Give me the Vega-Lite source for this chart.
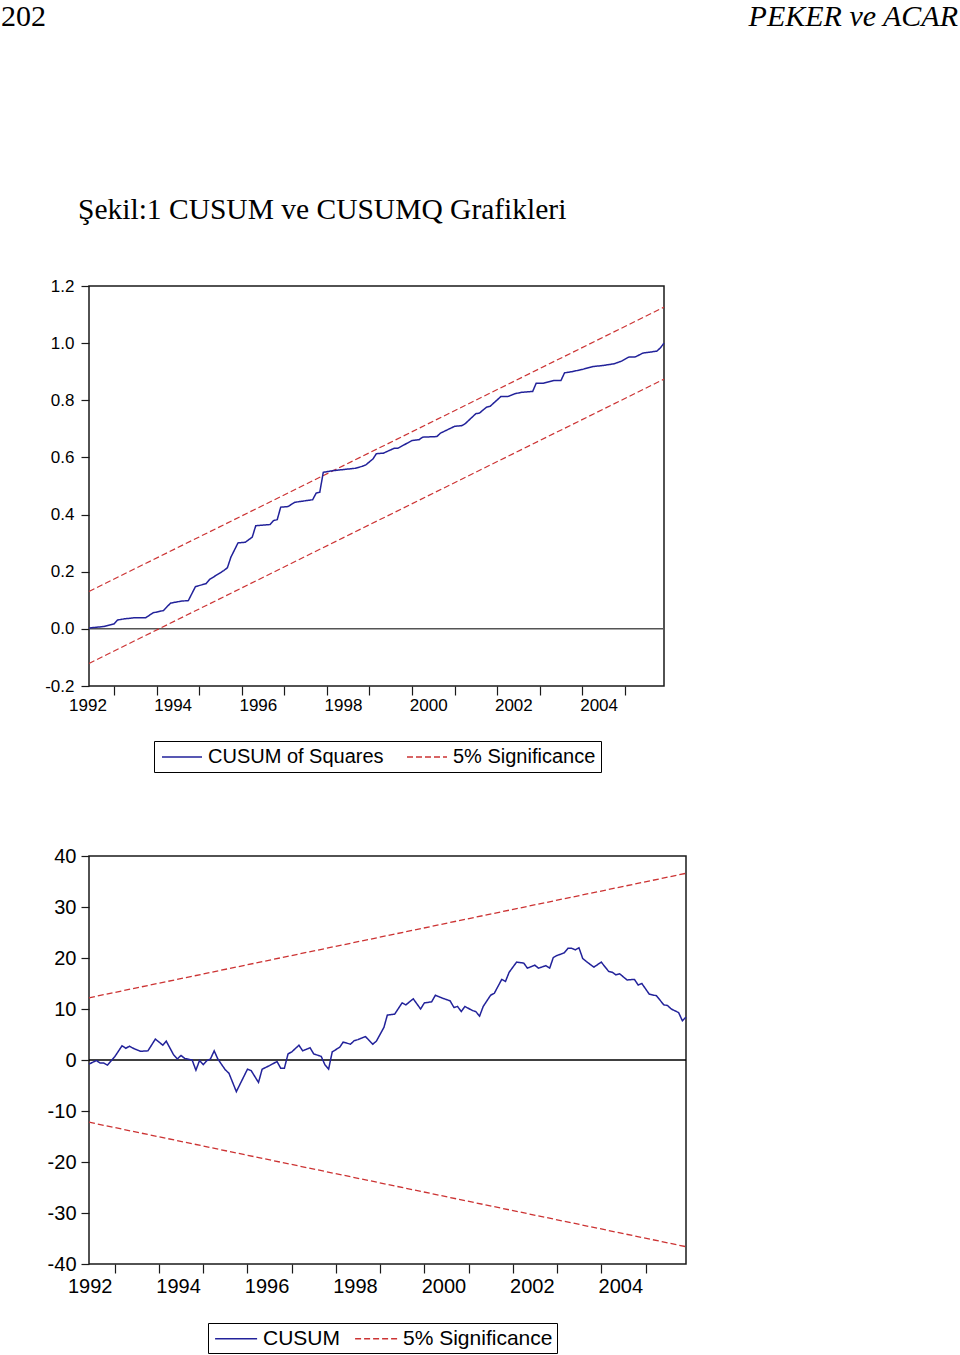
{
  "$schema": "https://vega.github.io/schema/vega-lite/v6.json",
  "padding": 0,
  "background": "white",
  "spacing": 160,
  "config": {
    "view": {"stroke": "#1a1a1a", "strokeWidth": 1.5},
    "axis": {"grid": false, "domain": false, "tickColor": "#1a1a1a", "labelColor": "black", "labelFont": "Liberation Sans", "labelFlush": false, "labelOverlap": false, "labelBound": false}
  },
  "datasets": {
    "header": [
      {"side": "left", "label": "202"},
      {"side": "right", "label": "PEKER ve ACAR"}
    ],
    "cusumq_sig": [
      {"date": "1992-06", "value": 0.131, "series": "5% Significance", "band": "upper"},
      {"date": "2005-12", "value": 1.126, "series": "5% Significance", "band": "upper"},
      {"date": "1992-06", "value": -0.121, "series": "5% Significance", "band": "lower"},
      {"date": "2005-12", "value": 0.874, "series": "5% Significance", "band": "lower"}
    ],
    "cusumq": [
      {"date": "1992-06", "value": 0.003, "series": "CUSUM of Squares"},
      {"date": "1992-10", "value": 0.008, "series": "CUSUM of Squares"},
      {"date": "1993-01", "value": 0.017, "series": "CUSUM of Squares"},
      {"date": "1993-02", "value": 0.031, "series": "CUSUM of Squares"},
      {"date": "1993-04", "value": 0.035, "series": "CUSUM of Squares"},
      {"date": "1993-07", "value": 0.039, "series": "CUSUM of Squares"},
      {"date": "1993-10", "value": 0.039, "series": "CUSUM of Squares"},
      {"date": "1993-12", "value": 0.056, "series": "CUSUM of Squares"},
      {"date": "1994-03", "value": 0.064, "series": "CUSUM of Squares"},
      {"date": "1994-05", "value": 0.090, "series": "CUSUM of Squares"},
      {"date": "1994-08", "value": 0.097, "series": "CUSUM of Squares"},
      {"date": "1994-10", "value": 0.099, "series": "CUSUM of Squares"},
      {"date": "1994-12", "value": 0.148, "series": "CUSUM of Squares"},
      {"date": "1995-03", "value": 0.158, "series": "CUSUM of Squares"},
      {"date": "1995-04", "value": 0.173, "series": "CUSUM of Squares"},
      {"date": "1995-08", "value": 0.204, "series": "CUSUM of Squares"},
      {"date": "1995-09", "value": 0.214, "series": "CUSUM of Squares"},
      {"date": "1995-10", "value": 0.251, "series": "CUSUM of Squares"},
      {"date": "1995-12", "value": 0.301, "series": "CUSUM of Squares"},
      {"date": "1996-02", "value": 0.303, "series": "CUSUM of Squares"},
      {"date": "1996-04", "value": 0.321, "series": "CUSUM of Squares"},
      {"date": "1996-05", "value": 0.361, "series": "CUSUM of Squares"},
      {"date": "1996-09", "value": 0.365, "series": "CUSUM of Squares"},
      {"date": "1996-10", "value": 0.379, "series": "CUSUM of Squares"},
      {"date": "1996-11", "value": 0.382, "series": "CUSUM of Squares"},
      {"date": "1996-12", "value": 0.426, "series": "CUSUM of Squares"},
      {"date": "1997-02", "value": 0.428, "series": "CUSUM of Squares"},
      {"date": "1997-04", "value": 0.443, "series": "CUSUM of Squares"},
      {"date": "1997-09", "value": 0.452, "series": "CUSUM of Squares"},
      {"date": "1997-10", "value": 0.475, "series": "CUSUM of Squares"},
      {"date": "1997-11", "value": 0.478, "series": "CUSUM of Squares"},
      {"date": "1997-12", "value": 0.548, "series": "CUSUM of Squares"},
      {"date": "1998-03", "value": 0.554, "series": "CUSUM of Squares"},
      {"date": "1998-09", "value": 0.562, "series": "CUSUM of Squares"},
      {"date": "1998-11", "value": 0.569, "series": "CUSUM of Squares"},
      {"date": "1998-12", "value": 0.574, "series": "CUSUM of Squares"},
      {"date": "1999-02", "value": 0.595, "series": "CUSUM of Squares"},
      {"date": "1999-03", "value": 0.613, "series": "CUSUM of Squares"},
      {"date": "1999-05", "value": 0.615, "series": "CUSUM of Squares"},
      {"date": "1999-08", "value": 0.632, "series": "CUSUM of Squares"},
      {"date": "1999-09", "value": 0.632, "series": "CUSUM of Squares"},
      {"date": "2000-01", "value": 0.659, "series": "CUSUM of Squares"},
      {"date": "2000-03", "value": 0.662, "series": "CUSUM of Squares"},
      {"date": "2000-04", "value": 0.671, "series": "CUSUM of Squares"},
      {"date": "2000-08", "value": 0.673, "series": "CUSUM of Squares"},
      {"date": "2000-09", "value": 0.685, "series": "CUSUM of Squares"},
      {"date": "2001-01", "value": 0.709, "series": "CUSUM of Squares"},
      {"date": "2001-03", "value": 0.711, "series": "CUSUM of Squares"},
      {"date": "2001-04", "value": 0.718, "series": "CUSUM of Squares"},
      {"date": "2001-07", "value": 0.753, "series": "CUSUM of Squares"},
      {"date": "2001-08", "value": 0.755, "series": "CUSUM of Squares"},
      {"date": "2001-10", "value": 0.776, "series": "CUSUM of Squares"},
      {"date": "2001-11", "value": 0.779, "series": "CUSUM of Squares"},
      {"date": "2002-02", "value": 0.813, "series": "CUSUM of Squares"},
      {"date": "2002-04", "value": 0.813, "series": "CUSUM of Squares"},
      {"date": "2002-06", "value": 0.823, "series": "CUSUM of Squares"},
      {"date": "2002-08", "value": 0.828, "series": "CUSUM of Squares"},
      {"date": "2002-11", "value": 0.831, "series": "CUSUM of Squares"},
      {"date": "2002-12", "value": 0.860, "series": "CUSUM of Squares"},
      {"date": "2003-02", "value": 0.860, "series": "CUSUM of Squares"},
      {"date": "2003-05", "value": 0.869, "series": "CUSUM of Squares"},
      {"date": "2003-07", "value": 0.869, "series": "CUSUM of Squares"},
      {"date": "2003-08", "value": 0.896, "series": "CUSUM of Squares"},
      {"date": "2003-10", "value": 0.900, "series": "CUSUM of Squares"},
      {"date": "2004-01", "value": 0.908, "series": "CUSUM of Squares"},
      {"date": "2004-04", "value": 0.918, "series": "CUSUM of Squares"},
      {"date": "2004-07", "value": 0.922, "series": "CUSUM of Squares"},
      {"date": "2004-10", "value": 0.928, "series": "CUSUM of Squares"},
      {"date": "2004-12", "value": 0.937, "series": "CUSUM of Squares"},
      {"date": "2005-02", "value": 0.951, "series": "CUSUM of Squares"},
      {"date": "2005-04", "value": 0.952, "series": "CUSUM of Squares"},
      {"date": "2005-06", "value": 0.965, "series": "CUSUM of Squares"},
      {"date": "2005-10", "value": 0.972, "series": "CUSUM of Squares"},
      {"date": "2005-11", "value": 0.984, "series": "CUSUM of Squares"},
      {"date": "2005-12", "value": 1.000, "series": "CUSUM of Squares"}
    ],
    "cusum_sig": [
      {"date": "1992-06", "value": 12.2, "series": "5% Significance", "band": "upper"},
      {"date": "2005-12", "value": 36.6, "series": "5% Significance", "band": "upper"},
      {"date": "1992-06", "value": -12.2, "series": "5% Significance", "band": "lower"},
      {"date": "2005-12", "value": -36.6, "series": "5% Significance", "band": "lower"}
    ],
    "cusum": [
      {"date": "1992-06", "value": -0.8, "series": "CUSUM"},
      {"date": "1992-08", "value": -0.1, "series": "CUSUM"},
      {"date": "1992-09", "value": -0.6, "series": "CUSUM"},
      {"date": "1992-10", "value": -0.6, "series": "CUSUM"},
      {"date": "1992-11", "value": -1.0, "series": "CUSUM"},
      {"date": "1993-01", "value": 0.7, "series": "CUSUM"},
      {"date": "1993-03", "value": 2.8, "series": "CUSUM"},
      {"date": "1993-04", "value": 2.3, "series": "CUSUM"},
      {"date": "1993-05", "value": 2.7, "series": "CUSUM"},
      {"date": "1993-06", "value": 2.3, "series": "CUSUM"},
      {"date": "1993-08", "value": 1.7, "series": "CUSUM"},
      {"date": "1993-10", "value": 1.8, "series": "CUSUM"},
      {"date": "1993-12", "value": 4.1, "series": "CUSUM"},
      {"date": "1994-02", "value": 2.9, "series": "CUSUM"},
      {"date": "1994-03", "value": 3.7, "series": "CUSUM"},
      {"date": "1994-05", "value": 1.0, "series": "CUSUM"},
      {"date": "1994-06", "value": 0.2, "series": "CUSUM"},
      {"date": "1994-07", "value": 0.9, "series": "CUSUM"},
      {"date": "1994-08", "value": 0.3, "series": "CUSUM"},
      {"date": "1994-10", "value": 0.0, "series": "CUSUM"},
      {"date": "1994-11", "value": -2.0, "series": "CUSUM"},
      {"date": "1994-12", "value": -0.1, "series": "CUSUM"},
      {"date": "1995-01", "value": -0.9, "series": "CUSUM"},
      {"date": "1995-02", "value": -0.1, "series": "CUSUM"},
      {"date": "1995-03", "value": 0.2, "series": "CUSUM"},
      {"date": "1995-04", "value": 1.8, "series": "CUSUM"},
      {"date": "1995-05", "value": 0.2, "series": "CUSUM"},
      {"date": "1995-07", "value": -1.9, "series": "CUSUM"},
      {"date": "1995-08", "value": -2.6, "series": "CUSUM"},
      {"date": "1995-10", "value": -6.2, "series": "CUSUM"},
      {"date": "1996-01", "value": -1.8, "series": "CUSUM"},
      {"date": "1996-02", "value": -2.1, "series": "CUSUM"},
      {"date": "1996-04", "value": -4.4, "series": "CUSUM"},
      {"date": "1996-05", "value": -1.8, "series": "CUSUM"},
      {"date": "1996-07", "value": -1.1, "series": "CUSUM"},
      {"date": "1996-09", "value": -0.3, "series": "CUSUM"},
      {"date": "1996-10", "value": -1.6, "series": "CUSUM"},
      {"date": "1996-11", "value": -1.6, "series": "CUSUM"},
      {"date": "1996-12", "value": 1.2, "series": "CUSUM"},
      {"date": "1997-01", "value": 1.6, "series": "CUSUM"},
      {"date": "1997-03", "value": 2.9, "series": "CUSUM"},
      {"date": "1997-04", "value": 1.8, "series": "CUSUM"},
      {"date": "1997-06", "value": 2.4, "series": "CUSUM"},
      {"date": "1997-07", "value": 1.2, "series": "CUSUM"},
      {"date": "1997-09", "value": 0.7, "series": "CUSUM"},
      {"date": "1997-10", "value": -0.9, "series": "CUSUM"},
      {"date": "1997-11", "value": -1.8, "series": "CUSUM"},
      {"date": "1997-12", "value": 1.6, "series": "CUSUM"},
      {"date": "1998-02", "value": 2.5, "series": "CUSUM"},
      {"date": "1998-03", "value": 3.5, "series": "CUSUM"},
      {"date": "1998-05", "value": 3.1, "series": "CUSUM"},
      {"date": "1998-06", "value": 3.8, "series": "CUSUM"},
      {"date": "1998-07", "value": 4.0, "series": "CUSUM"},
      {"date": "1998-09", "value": 4.6, "series": "CUSUM"},
      {"date": "1998-11", "value": 3.1, "series": "CUSUM"},
      {"date": "1998-12", "value": 3.7, "series": "CUSUM"},
      {"date": "1999-02", "value": 6.4, "series": "CUSUM"},
      {"date": "1999-03", "value": 8.8, "series": "CUSUM"},
      {"date": "1999-05", "value": 9.0, "series": "CUSUM"},
      {"date": "1999-07", "value": 11.2, "series": "CUSUM"},
      {"date": "1999-08", "value": 10.8, "series": "CUSUM"},
      {"date": "1999-10", "value": 12.0, "series": "CUSUM"},
      {"date": "1999-12", "value": 10.0, "series": "CUSUM"},
      {"date": "2000-01", "value": 11.2, "series": "CUSUM"},
      {"date": "2000-03", "value": 11.4, "series": "CUSUM"},
      {"date": "2000-04", "value": 12.7, "series": "CUSUM"},
      {"date": "2000-06", "value": 12.1, "series": "CUSUM"},
      {"date": "2000-08", "value": 11.6, "series": "CUSUM"},
      {"date": "2000-09", "value": 10.3, "series": "CUSUM"},
      {"date": "2000-10", "value": 10.5, "series": "CUSUM"},
      {"date": "2000-11", "value": 9.5, "series": "CUSUM"},
      {"date": "2000-12", "value": 10.5, "series": "CUSUM"},
      {"date": "2001-02", "value": 9.7, "series": "CUSUM"},
      {"date": "2001-03", "value": 9.5, "series": "CUSUM"},
      {"date": "2001-04", "value": 8.6, "series": "CUSUM"},
      {"date": "2001-05", "value": 10.5, "series": "CUSUM"},
      {"date": "2001-07", "value": 12.7, "series": "CUSUM"},
      {"date": "2001-08", "value": 13.1, "series": "CUSUM"},
      {"date": "2001-10", "value": 15.8, "series": "CUSUM"},
      {"date": "2001-11", "value": 15.4, "series": "CUSUM"},
      {"date": "2001-12", "value": 17.2, "series": "CUSUM"},
      {"date": "2002-02", "value": 19.2, "series": "CUSUM"},
      {"date": "2002-04", "value": 19.0, "series": "CUSUM"},
      {"date": "2002-05", "value": 18.0, "series": "CUSUM"},
      {"date": "2002-07", "value": 18.6, "series": "CUSUM"},
      {"date": "2002-08", "value": 18.0, "series": "CUSUM"},
      {"date": "2002-10", "value": 18.5, "series": "CUSUM"},
      {"date": "2002-11", "value": 18.0, "series": "CUSUM"},
      {"date": "2002-12", "value": 20.1, "series": "CUSUM"},
      {"date": "2003-01", "value": 20.5, "series": "CUSUM"},
      {"date": "2003-03", "value": 21.0, "series": "CUSUM"},
      {"date": "2003-04", "value": 21.9, "series": "CUSUM"},
      {"date": "2003-05", "value": 21.9, "series": "CUSUM"},
      {"date": "2003-06", "value": 21.6, "series": "CUSUM"},
      {"date": "2003-07", "value": 22.0, "series": "CUSUM"},
      {"date": "2003-08", "value": 19.9, "series": "CUSUM"},
      {"date": "2003-09", "value": 19.3, "series": "CUSUM"},
      {"date": "2003-11", "value": 18.2, "series": "CUSUM"},
      {"date": "2004-01", "value": 19.2, "series": "CUSUM"},
      {"date": "2004-03", "value": 17.4, "series": "CUSUM"},
      {"date": "2004-04", "value": 17.2, "series": "CUSUM"},
      {"date": "2004-05", "value": 16.7, "series": "CUSUM"},
      {"date": "2004-06", "value": 16.9, "series": "CUSUM"},
      {"date": "2004-08", "value": 15.7, "series": "CUSUM"},
      {"date": "2004-10", "value": 15.8, "series": "CUSUM"},
      {"date": "2004-11", "value": 14.7, "series": "CUSUM"},
      {"date": "2004-12", "value": 15.0, "series": "CUSUM"},
      {"date": "2005-02", "value": 12.9, "series": "CUSUM"},
      {"date": "2005-04", "value": 12.6, "series": "CUSUM"},
      {"date": "2005-06", "value": 10.8, "series": "CUSUM"},
      {"date": "2005-07", "value": 10.7, "series": "CUSUM"},
      {"date": "2005-08", "value": 10.0, "series": "CUSUM"},
      {"date": "2005-10", "value": 9.3, "series": "CUSUM"},
      {"date": "2005-11", "value": 7.7, "series": "CUSUM"},
      {"date": "2005-12", "value": 8.4, "series": "CUSUM"}
    ]
  },
  "vconcat": [
    {
      "width": 872,
      "height": 33,
      "view": {"stroke": null},
      "data": {"name": "header"},
      "layer": [
        {
          "transform": [{"filter": "datum.side === 'left'"}],
          "mark": {"type": "text", "align": "left", "dx": -88, "font": "Liberation Serif", "fontSize": 30, "color": "black"},
          "encoding": {
            "x": {"field": "side", "type": "nominal", "scale": {"type": "point", "domain": ["left", "right"], "padding": 0}, "axis": null},
            "text": {"field": "label"}
          }
        },
        {
          "transform": [{"filter": "datum.side === 'right'"}],
          "mark": {"type": "text", "align": "right", "dx": -3, "font": "Liberation Serif", "fontSize": 30, "fontStyle": "italic", "color": "black"},
          "encoding": {
            "x": {"field": "side", "type": "nominal", "scale": {"type": "point", "domain": ["left", "right"], "padding": 0}, "axis": null},
            "text": {"field": "label"}
          }
        }
      ]
    },
    {
      "spacing": 71,
      "resolve": {"scale": {"color": "independent", "strokeDash": "independent"}, "legend": {"color": "independent", "strokeDash": "independent"}},
      "vconcat": [
        {
          "width": 575,
          "height": 400,
          "title": {"text": "Şekil:1 CUSUM ve CUSUMQ Grafikleri", "anchor": "start", "frame": "bounds", "dx": 77, "font": "Liberation Serif", "fontSize": 29.5, "fontWeight": "normal", "color": "black", "offset": 52},
          "layer": [
            {
              "data": {"values": [{}]},
              "mark": {"type": "rule", "color": "#555555", "strokeWidth": 1.5},
              "encoding": {"y": {"datum": 0, "type": "quantitative"}}
            },
            {
              "data": {"name": "cusumq_sig"},
              "mark": {"type": "line", "strokeWidth": 1.2},
              "encoding": {
                "x": {"field": "date", "type": "temporal", "title": null,
                  "scale": {"type": "utc", "nice": false, "domain": [{"year": 1992, "month": 6, "date": 1, "utc": true}, {"year": 2005, "month": 12, "date": 1, "utc": true}]},
                  "axis": {"orient": "bottom", "labels": false, "tickSize": 9, "tickWidth": 1.2,
                    "values": [{"year": 1993, "month": 1, "date": 1, "utc": true}, {"year": 1994, "month": 1, "date": 1, "utc": true}, {"year": 1995, "month": 1, "date": 1, "utc": true}, {"year": 1996, "month": 1, "date": 1, "utc": true}, {"year": 1997, "month": 1, "date": 1, "utc": true}, {"year": 1998, "month": 1, "date": 1, "utc": true}, {"year": 1999, "month": 1, "date": 1, "utc": true}, {"year": 2000, "month": 1, "date": 1, "utc": true}, {"year": 2001, "month": 1, "date": 1, "utc": true}, {"year": 2002, "month": 1, "date": 1, "utc": true}, {"year": 2003, "month": 1, "date": 1, "utc": true}, {"year": 2004, "month": 1, "date": 1, "utc": true}, {"year": 2005, "month": 1, "date": 1, "utc": true}]}},
                "y": {"field": "value", "type": "quantitative", "title": null,
                  "scale": {"domain": [-0.2, 1.2], "nice": false, "zero": false},
                  "axis": {"values": [-0.2, 0, 0.2, 0.4, 0.6, 0.8, 1.0, 1.2], "tickSize": 8, "tickWidth": 1.2, "labelPadding": 7, "labelFontSize": 17, "minExtent": 88,
                    "labelExpr": "(datum.value < 0 ? '-' : '') + format(abs(datum.value), '.1f')"}},
                "color": {"field": "series", "type": "nominal",
                  "scale": {"domain": ["CUSUM of Squares", "5% Significance"], "range": ["#22229a", "#cc3333"]},
                  "legend": {"orient": "none", "legendX": 65, "legendY": 455, "direction": "horizontal", "title": null, "symbolType": "M-0.8,0H3.2", "symbolSize": 400, "symbolStrokeWidth": 1.3, "labelFont": "Liberation Sans", "labelFontSize": 20, "labelColor": "black", "labelOffset": 27, "columnPadding": 20, "padding": 5, "strokeColor": "black", "fillColor": "white", "cornerRadius": 0, "labelLimit": 400}},
                "strokeDash": {"field": "series", "type": "nominal",
                  "scale": {"domain": ["CUSUM of Squares", "5% Significance"], "range": [[1, 0], [6, 3]]},
                  "legend": {"orient": "none", "legendX": 65, "legendY": 455, "direction": "horizontal", "title": null, "symbolType": "M-0.8,0H3.2", "symbolSize": 400, "symbolStrokeWidth": 1.3, "labelFont": "Liberation Sans", "labelFontSize": 20, "labelColor": "black", "labelOffset": 27, "columnPadding": 20, "padding": 5, "strokeColor": "black", "fillColor": "white", "cornerRadius": 0, "labelLimit": 400}},
                "detail": {"field": "band"}
              }
            },
            {
              "data": {"name": "cusumq"},
              "mark": {"type": "line", "strokeWidth": 1.5},
              "encoding": {
                "x": {"field": "date", "type": "temporal", "title": null,
                  "axis": {"orient": "bottom", "ticks": false, "tickSize": 0, "labelPadding": 11, "labelFontSize": 17, "format": "%Y", "labelOffset": -5,
                    "values": [{"year": 1992, "month": 7, "date": 1, "utc": true}, {"year": 1994, "month": 7, "date": 1, "utc": true}, {"year": 1996, "month": 7, "date": 1, "utc": true}, {"year": 1998, "month": 7, "date": 1, "utc": true}, {"year": 2000, "month": 7, "date": 1, "utc": true}, {"year": 2002, "month": 7, "date": 1, "utc": true}, {"year": 2004, "month": 7, "date": 1, "utc": true}]}},
                "y": {"field": "value", "type": "quantitative", "title": null},
                "color": {"field": "series", "type": "nominal"},
                "strokeDash": {"field": "series", "type": "nominal"}
              }
            }
          ],
          "resolve": {"axis": {"x": "independent"}}
        },
        {
          "width": 597,
          "height": 408,
          "layer": [
            {
              "data": {"values": [{}]},
              "mark": {"type": "rule", "color": "black", "strokeWidth": 1.3},
              "encoding": {"y": {"datum": 0, "type": "quantitative"}}
            },
            {
              "data": {"name": "cusum_sig"},
              "mark": {"type": "line", "strokeWidth": 1.3},
              "encoding": {
                "x": {"field": "date", "type": "temporal", "title": null,
                  "scale": {"type": "utc", "nice": false, "domain": [{"year": 1992, "month": 6, "date": 1, "utc": true}, {"year": 2005, "month": 12, "date": 1, "utc": true}]},
                  "axis": {"orient": "bottom", "labels": false, "tickSize": 9, "tickWidth": 1.2,
                    "values": [{"year": 1993, "month": 1, "date": 1, "utc": true}, {"year": 1994, "month": 1, "date": 1, "utc": true}, {"year": 1995, "month": 1, "date": 1, "utc": true}, {"year": 1996, "month": 1, "date": 1, "utc": true}, {"year": 1997, "month": 1, "date": 1, "utc": true}, {"year": 1998, "month": 1, "date": 1, "utc": true}, {"year": 1999, "month": 1, "date": 1, "utc": true}, {"year": 2000, "month": 1, "date": 1, "utc": true}, {"year": 2001, "month": 1, "date": 1, "utc": true}, {"year": 2002, "month": 1, "date": 1, "utc": true}, {"year": 2003, "month": 1, "date": 1, "utc": true}, {"year": 2004, "month": 1, "date": 1, "utc": true}, {"year": 2005, "month": 1, "date": 1, "utc": true}]}},
                "y": {"field": "value", "type": "quantitative", "title": null,
                  "scale": {"domain": [-40, 40], "nice": false, "zero": false},
                  "axis": {"values": [-40, -30, -20, -10, 0, 10, 20, 30, 40], "tickSize": 8, "tickWidth": 1.2, "labelPadding": 5, "labelFontSize": 20, "minExtent": 86,
                    "labelExpr": "(datum.value < 0 ? '-' : '') + format(abs(datum.value), 'd')"}},
                "color": {"field": "series", "type": "nominal",
                  "scale": {"domain": ["CUSUM", "5% Significance"], "range": ["#22229a", "#cc3333"]},
                  "legend": {"orient": "none", "legendX": 119, "legendY": 467, "direction": "horizontal", "title": null, "symbolType": "M-0.8,0H3.2", "symbolSize": 441, "symbolStrokeWidth": 1.3, "labelFont": "Liberation Sans", "labelFontSize": 21, "labelColor": "black", "labelOffset": 28, "columnPadding": 12, "padding": 4, "strokeColor": "black", "fillColor": "white", "cornerRadius": 0, "labelLimit": 400}},
                "strokeDash": {"field": "series", "type": "nominal",
                  "scale": {"domain": ["CUSUM", "5% Significance"], "range": [[1, 0], [6, 3]]},
                  "legend": {"orient": "none", "legendX": 119, "legendY": 467, "direction": "horizontal", "title": null, "symbolType": "M-0.8,0H3.2", "symbolSize": 441, "symbolStrokeWidth": 1.3, "labelFont": "Liberation Sans", "labelFontSize": 21, "labelColor": "black", "labelOffset": 28, "columnPadding": 12, "padding": 4, "strokeColor": "black", "fillColor": "white", "cornerRadius": 0, "labelLimit": 400}},
                "detail": {"field": "band"}
              }
            },
            {
              "data": {"name": "cusum"},
              "mark": {"type": "line", "strokeWidth": 1.5},
              "encoding": {
                "x": {"field": "date", "type": "temporal", "title": null,
                  "axis": {"orient": "bottom", "ticks": false, "tickSize": 0, "labelPadding": 12, "labelFontSize": 20, "format": "%Y", "labelOffset": -3,
                    "values": [{"year": 1992, "month": 7, "date": 1, "utc": true}, {"year": 1994, "month": 7, "date": 1, "utc": true}, {"year": 1996, "month": 7, "date": 1, "utc": true}, {"year": 1998, "month": 7, "date": 1, "utc": true}, {"year": 2000, "month": 7, "date": 1, "utc": true}, {"year": 2002, "month": 7, "date": 1, "utc": true}, {"year": 2004, "month": 7, "date": 1, "utc": true}]}},
                "y": {"field": "value", "type": "quantitative", "title": null},
                "color": {"field": "series", "type": "nominal"},
                "strokeDash": {"field": "series", "type": "nominal"}
              }
            }
          ],
          "resolve": {"axis": {"x": "independent"}}
        }
      ]
    }
  ]
}
